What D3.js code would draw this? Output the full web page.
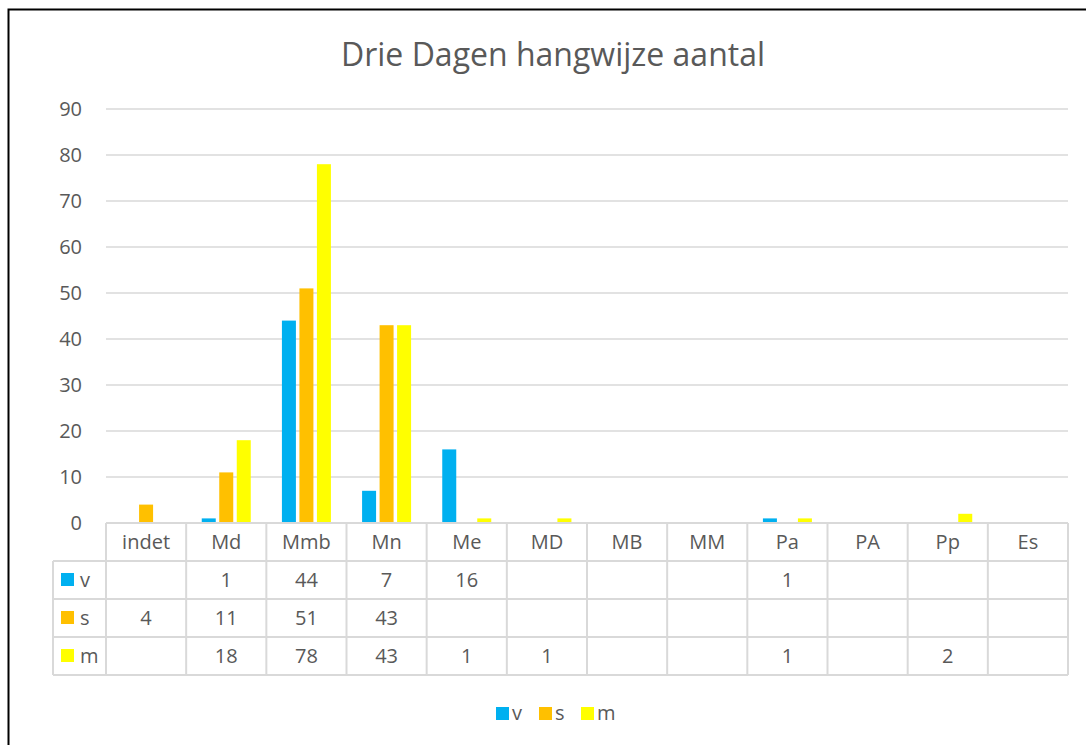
<!DOCTYPE html>
<meta charset="utf-8">
<html>
<head>
  <title>Drie Dagen hangwijze aantal</title>
</head>
<style>
body { margin: 0; background: #fff; }
text { font-family: "Open Sans", sans-serif; fill: #595959; }
.grid line { stroke: #d9d9d9; stroke-width: 1.5; }
.tbl line { stroke: #d9d9d9; stroke-width: 2; }
</style>
<body>
<svg id="chart" width="1086" height="745"></svg>

<script src="https://d3js.org/d3.v7.min.js"></script>
<script>

// data
var categories = ["indet", "Md", "Mmb", "Mn", "Me", "MD", "MB", "MM", "Pa", "PA", "Pp", "Es"];
var seriesNames = ["v", "s", "m"];
var vValues = [null, 1, 44, 7, 16, null, null, null, 1, null, null, null];
var sValues = [4, 11, 51, 43, null, null, null, null, null, null, null, null];
var mValues = [null, 18, 78, 43, 1, 1, null, null, 1, null, 2, null];
var colors = ["#00B0F0", "#FFC000", "#FFFF00"];
var yTicks = [0, 10, 20, 30, 40, 50, 60, 70, 80, 90];

var series = [
  {name: seriesNames[0], values: vValues, color: colors[0]},
  {name: seriesNames[1], values: sValues, color: colors[1]},
  {name: seriesNames[2], values: mValues, color: colors[2]}
];

var fs = "20px";

var svg = d3.select("#chart");

// outer chart border (runs off the right and bottom of the shot)
svg.append("rect")
  .attr("x", 8.5).attr("y", 9.5)
  .attr("width", 1200).attr("height", 900)
  .style("fill", "none").style("stroke", "#000").style("stroke-width", 2);

// title
svg.append("text")
  .attr("x", 553).attr("y", 66)
  .style("text-anchor", "middle")
  .style("font-size", "32px")
  .text("Drie Dagen hangwijze aantal");

// scales
var x0 = d3.scaleBand()
  .domain(categories)
  .range([106, 1068]);

var groupW = 49;
var off = (x0.bandwidth() - groupW) / 2;
var x1 = d3.scaleBand()
  .domain(seriesNames)
  .range([off, off + groupW])
  .paddingInner(0.2);

var y = d3.scaleLinear()
  .domain([0, 90])
  .range([523, 109]);

// gridlines
svg.append("g").attr("class", "grid")
  .selectAll("line")
  .data(yTicks.filter(function(d) { return d > 0; }))
  .enter().append("line")
    .attr("x1", 106).attr("x2", 1068)
    .attr("y1", function(d) { return y(d); })
    .attr("y2", function(d) { return y(d); });

// y axis labels
svg.append("g")
  .selectAll("text")
  .data(yTicks)
  .enter().append("text")
    .attr("x", 82)
    .attr("y", function(d) { return y(d); })
    .attr("dy", "0.36em")
    .style("text-anchor", "end")
    .style("font-size", fs)
    .text(function(d) { return d; });

// bars
series.forEach(function(s) {
  svg.append("g")
    .selectAll("rect")
    .data(categories.map(function(c, i) { return {cat: c, val: s.values[i]}; })
      .filter(function(d) { return d.val != null; }))
    .enter().append("rect")
      .attr("x", function(d) { return x0(d.cat) + x1(s.name); })
      .attr("width", x1.bandwidth())
      .attr("y", function(d) { return y(d.val); })
      .attr("height", function(d) { return y(0) - y(d.val); })
      .style("fill", s.color);
});

// data table
var rowH = 38;
var top0 = y(0);
var tbl = svg.append("g").attr("class", "tbl");
var legLeft = 53;

// horizontal lines
tbl.append("line").attr("x1", 106).attr("x2", 1068).attr("y1", top0).attr("y2", top0);
for (var r = 1; r <= 4; r++) {
  tbl.append("line").attr("x1", legLeft).attr("x2", 1068)
    .attr("y1", top0 + r * rowH).attr("y2", top0 + r * rowH);
}
// vertical lines
tbl.selectAll("line.v")
  .data(categories.map(function(c) { return x0(c); }).concat([1068]))
  .enter().append("line")
    .attr("x1", function(d) { return d; }).attr("x2", function(d) { return d; })
    .attr("y1", top0).attr("y2", top0 + 4 * rowH);
tbl.append("line").attr("x1", legLeft).attr("x2", legLeft)
  .attr("y1", top0 + rowH).attr("y2", top0 + 4 * rowH);

// category labels
svg.append("g")
  .selectAll("text")
  .data(categories)
  .enter().append("text")
    .attr("x", function(d) { return x0(d) + x0.bandwidth() / 2; })
    .attr("y", top0 + rowH / 2)
    .attr("dy", "0.36em")
    .style("text-anchor", "middle")
    .style("font-size", fs)
    .text(function(d) { return d; });

// series rows
series.forEach(function(s, i) {
  var cy = top0 + (i + 1) * rowH + rowH / 2;
  svg.append("rect")
    .attr("x", 61).attr("y", cy - 7)
    .attr("width", 13).attr("height", 13)
    .style("fill", s.color);
  svg.append("text")
    .attr("x", 80).attr("y", cy)
    .attr("dy", "0.36em")
    .style("font-size", fs)
    .text(s.name);
  svg.append("g")
    .selectAll("text")
    .data(categories.map(function(c, j) { return {cat: c, val: s.values[j]}; })
      .filter(function(d) { return d.val != null; }))
    .enter().append("text")
      .attr("x", function(d) { return x0(d.cat) + x0.bandwidth() / 2; })
      .attr("y", cy)
      .attr("dy", "0.36em")
      .style("text-anchor", "middle")
      .style("font-size", fs)
      .text(function(d) { return d.val; });
});

// legend below
var legX = [496, 539, 581];
series.forEach(function(s, i) {
  svg.append("rect")
    .attr("x", legX[i]).attr("y", 707)
    .attr("width", 13).attr("height", 13)
    .style("fill", s.color);
  svg.append("text")
    .attr("x", legX[i] + 16).attr("y", 713)
    .attr("dy", "0.36em")
    .style("font-size", fs)
    .text(s.name);
});

</script>
</body>
</html>
